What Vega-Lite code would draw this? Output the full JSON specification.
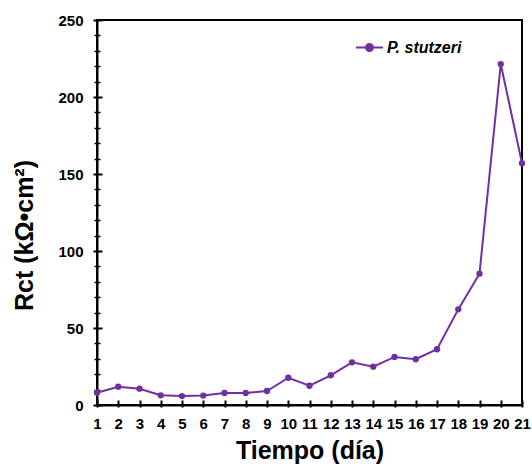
{
  "$schema": "https://vega.github.io/schema/vega-lite/v6.json",
  "width": 425,
  "height": 385,
  "autosize": {"type": "none"},
  "padding": {"left": 97, "top": 20, "right": 10, "bottom": 63},
  "background": "white",
  "config": {
    "font": "Liberation Sans",
    "view": {"stroke": "black", "strokeWidth": 2},
    "axis": {
      "domainColor": "black", "domainWidth": 2, "domainOpacity": 1, "tickColor": "black", "tickWidth": 2, "tickOpacity": 1, "ticks": true, "zindex": 1,
      "labelColor": "black", "labelFont": "Liberation Sans", "labelFontWeight": "bold", "labelFontSize": 15,
      "titleColor": "black", "titleFont": "Liberation Sans", "titleFontWeight": "bold", "grid": false
    }
  },
  "data": {
    "values": [
      {"day": 1, "rct": 8.0, "series": "P. stutzeri"},
      {"day": 2, "rct": 11.9, "series": "P. stutzeri"},
      {"day": 3, "rct": 10.6, "series": "P. stutzeri"},
      {"day": 4, "rct": 6.3, "series": "P. stutzeri"},
      {"day": 5, "rct": 5.8, "series": "P. stutzeri"},
      {"day": 6, "rct": 6.1, "series": "P. stutzeri"},
      {"day": 7, "rct": 7.8, "series": "P. stutzeri"},
      {"day": 8, "rct": 7.8, "series": "P. stutzeri"},
      {"day": 9, "rct": 9.1, "series": "P. stutzeri"},
      {"day": 10, "rct": 17.7, "series": "P. stutzeri"},
      {"day": 11, "rct": 12.5, "series": "P. stutzeri"},
      {"day": 12, "rct": 19.3, "series": "P. stutzeri"},
      {"day": 13, "rct": 27.7, "series": "P. stutzeri"},
      {"day": 14, "rct": 24.9, "series": "P. stutzeri"},
      {"day": 15, "rct": 31.2, "series": "P. stutzeri"},
      {"day": 16, "rct": 29.7, "series": "P. stutzeri"},
      {"day": 17, "rct": 36.2, "series": "P. stutzeri"},
      {"day": 18, "rct": 62.1, "series": "P. stutzeri"},
      {"day": 19, "rct": 85.3, "series": "P. stutzeri"},
      {"day": 20, "rct": 221.4, "series": "P. stutzeri"},
      {"day": 21, "rct": 157.0, "series": "P. stutzeri"}
    ]
  },
  "layer": [
    {
      "mark": {"type": "point", "opacity": 0},
      "encoding": {
        "x": {"field": "day", "type": "quantitative", "scale": {"domain": [1, 21], "nice": false, "zero": false},
          "axis": {"orient": "bottom", "offset": -5, "values": [1,2,3,4,5,6,7,8,9,10,11,12,13,14,15,16,17,18,19,20,21], "tickSize": 5, "labels": false, "domain": false, "title": null}},
        "y": {"field": "rct", "type": "quantitative", "scale": {"domain": [0, 250], "nice": false},
          "axis": {"orient": "left", "offset": -5, "values": [0,50,100,150,200,250], "tickSize": 5, "labels": false, "domain": false, "title": null}}
      }
    },
    {
      "mark": {"type": "point", "opacity": 0},
      "encoding": {
        "x": {"field": "day", "type": "quantitative", "axis": null},
        "y": {"field": "rct", "type": "quantitative",
          "axis": {"orient": "left", "offset": -3, "values": [10,20,30,40,60,70,80,90,110,120,130,140,160,170,180,190,210,220,230,240], "tickSize": 6, "tickWidth": 1.5, "labels": false, "domain": false, "title": null}}
      }
    },
    {
      "mark": {"type": "line", "strokeWidth": 2, "point": {"filled": true, "size": 40}},
      "encoding": {
        "x": {"field": "day", "type": "quantitative",
          "axis": {"orient": "bottom", "values": [1,2,3,4,5,6,7,8,9,10,11,12,13,14,15,16,17,18,19,20,21], "tickSize": 2, "labelPadding": 9, "labelFlush": false, "labelOverlap": false, "title": "Tiempo (día)", "titleFontSize": 25, "titleBaseline": "top", "titleY": 33}},
        "y": {"field": "rct", "type": "quantitative",
          "axis": {"orient": "left", "values": [0,50,100,150,200,250], "tickSize": 4, "labelPadding": 10, "labelFlush": false, "title": "Rct (kΩ•cm²)", "titleFontSize": 25, "titleBaseline": "bottom", "titleX": -60, "titleY": 215}},
        "color": {"field": "series", "type": "nominal", "scale": {"range": ["#7030A0"]},
          "legend": {"orient": "none", "legendX": 258, "legendY": 13, "padding": 0, "title": null,
            "symbolType": "M-1,0H1M-0.26,0A0.26,0.26 0 1 1 0.26,0A0.26,0.26 0 1 1 -0.26,0Z",
            "symbolSize": 729, "symbolStrokeWidth": 2, "symbolFillColor": "#7030A0", "symbolOpacity": 1,
            "labelFont": "Liberation Sans", "labelFontSize": 16, "labelFontStyle": "italic", "labelFontWeight": "bold", "labelColor": "black", "labelOffset": 3}}
      }
    }
  ],
  "resolve": {"axis": {"x": "independent", "y": "independent"}}
}
